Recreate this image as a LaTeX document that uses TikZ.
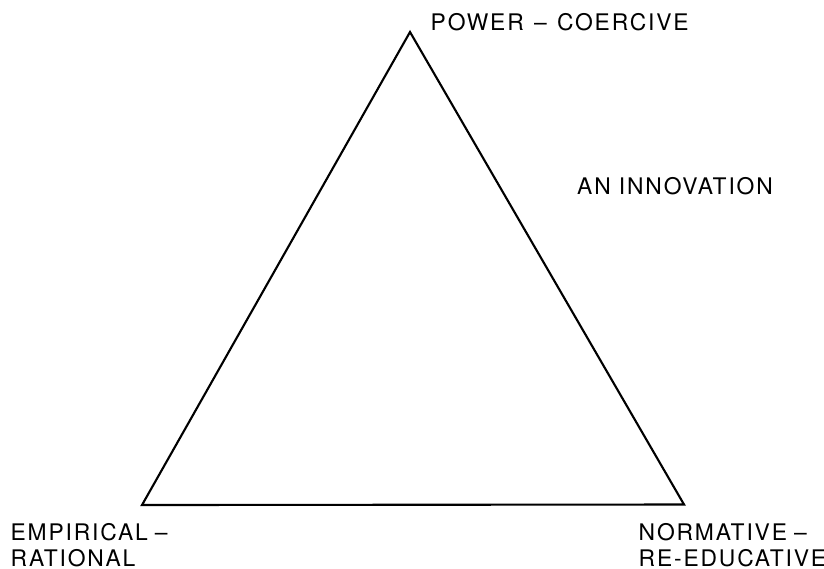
\documentclass[tikz,border=0pt]{standalone}
\usepackage{fontspec}
\setmainfont{TeX Gyre Heros}[LetterSpace=8]
\usepackage{tikz}
\usetikzlibrary{positioning}

\tikzset{
  side/.style={black, line width=0.6pt, line join=miter},
  corner/.style={anchor=base west, inner sep=0pt, align=left, font=\fontsize{6.5}{7.57}\selectfont}
}

\begin{document}
\begin{tikzpicture}
  \useasboundingbox (0,0) rectangle (8.24,5.68);

  % Corners of the triangle
  \coordinate (pc) at (4.10,5.36);
  \coordinate (er) at (1.42,0.63);
  \coordinate (nr) at (6.84,0.635);
  \draw[side] (pc) -- (er) -- (nr) -- cycle;

  % Labels (two-line ones sit on their last line)
  \node[corner] (pclabel) at (4.30,5.372) {POWER\hspace{0.6pt} -- \hspace{0.6pt}COERCIVE};
  \node[corner] (innov) at (5.765,3.74) {AN INNOVATION};
  \node[corner] (erlabel) at (0.10,0.013) {EMPIRICAL\hspace{2pt}--\\RATIONAL};
  \node[corner] (nrlabel) at (6.38,0.013) {NORMATIVE\hspace{2pt}--\\RE-EDUCATIVE};
\end{tikzpicture}
\end{document}
